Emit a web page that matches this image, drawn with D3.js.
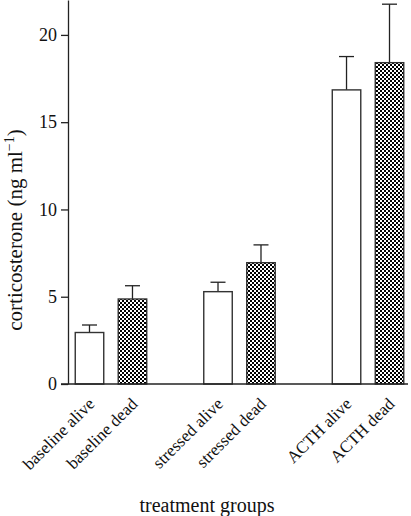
<!DOCTYPE html>
<html>
<head>
<meta charset="utf-8">
<script src="https://cdn.jsdelivr.net/npm/d3@7"></script>
<style>
  html, body { margin: 0; padding: 0; background: #fff; }
  svg { display: block; }
  text { font-family: "Liberation Serif", "DejaVu Serif", serif; fill: #111; }
</style>
</head>
<body>
<svg id="chart" width="411" height="516"></svg>
<script>
// ---- data ----
const groups = ["baseline", "stressed", "ACTH"];
const states = ["alive", "dead"];
const categories = ["baseline alive", "baseline dead", "stressed alive", "stressed dead", "ACTH alive", "ACTH dead"];
const means = [2.95, 4.87, 5.29, 6.95, 16.85, 18.41];
const errors = [0.43, 0.76, 0.54, 1.02, 1.91, 3.35];
const yTicks = [0, 5, 10, 15, 20];
const yLabel = "corticosterone (ng ml";
const xLabel = "treatment groups";

const rows = categories.map((c, i) => ({
  name: c, group: groups[Math.floor(i / 2)], state: states[i % 2], mean: means[i], err: errors[i]
}));

const svg = d3.select("#chart");
const axisX = 68, baseY = 384, topY = 0, rightX = 411;

const y = d3.scaleLinear().domain([0, 22]).range([baseY, topY]);
const xg = d3.scaleBand().domain(groups).range([axisX, rightX]).paddingInner(0.331).paddingOuter(0);
const xs = d3.scaleBand().domain(states).range([0, xg.bandwidth()]).paddingInner(0.337).paddingOuter(0.1686);

// checker pattern
const defs = svg.append("defs");
const pat = defs.append("pattern").attr("id", "checker").attr("patternUnits", "userSpaceOnUse")
  .attr("width", 4).attr("height", 4);
pat.append("rect").attr("width", 4).attr("height", 4).attr("fill", "#000");
pat.append("rect").attr("x", 0).attr("y", 0).attr("width", 2).attr("height", 2).attr("fill", "#fff");
pat.append("rect").attr("x", 2).attr("y", 2).attr("width", 2).attr("height", 2).attr("fill", "#fff");

const bx = d => xg(d.group) + xs(d.state);

// error bars
const eb = svg.append("g").attr("stroke", "#222").attr("stroke-width", 1.3).attr("fill", "none");
rows.forEach(d => {
  const cx = bx(d) + xs.bandwidth() / 2;
  eb.append("line").attr("x1", cx).attr("x2", cx).attr("y1", y(d.mean)).attr("y2", y(d.mean + d.err));
  eb.append("line").attr("x1", cx - 7.5).attr("x2", cx + 7.5).attr("y1", y(d.mean + d.err)).attr("y2", y(d.mean + d.err));
});

// bars
svg.append("g").selectAll("rect").data(rows).join("rect")
  .attr("x", d => bx(d))
  .attr("y", d => y(d.mean))
  .attr("width", xs.bandwidth())
  .attr("height", d => y(0) - y(d.mean))
  .attr("fill", d => d.state === "dead" ? "url(#checker)" : "#fff")
  .attr("stroke", "#333")
  .attr("stroke-width", 1.4);

// y axis
const yAxis = d3.axisLeft(y).tickValues(yTicks).tickSize(7).tickPadding(4).tickSizeOuter(0);
const gy = svg.append("g").attr("transform", `translate(${axisX},0)`).call(yAxis);
gy.select(".domain").attr("stroke", "#222").attr("stroke-width", 1.3);
gy.selectAll(".tick line").attr("stroke", "#222").attr("stroke-width", 1.3);
gy.selectAll(".tick text").attr("font-size", 18).attr("font-family", "Liberation Serif").attr("fill", "#111");

// x baseline
svg.append("line").attr("x1", axisX - 7).attr("x2", rightX - 3).attr("y1", y(0)).attr("y2", y(0))
  .attr("stroke", "#222").attr("stroke-width", 1.3);

// x labels
svg.append("g").selectAll("text").data(rows).join("text")
  .attr("transform", d => `translate(${bx(d) + xs.bandwidth() / 2 + 6},${baseY + 21}) rotate(-45)`)
  .attr("text-anchor", "end")
  .attr("font-size", 17)
  .text(d => d.name);

// y label
const yl = svg.append("text")
  .attr("transform", "translate(22,230) rotate(-90)")
  .attr("text-anchor", "middle")
  .attr("font-size", 21);
yl.append("tspan").text(yLabel);
yl.append("tspan").attr("font-size", 14).attr("dy", -8).text("−1");
yl.append("tspan").attr("dy", 8).text(")");

// x title
svg.append("text").attr("x", 207).attr("y", 512).attr("text-anchor", "middle").attr("font-size", 20).text(xLabel);
</script>
</body>
</html>
